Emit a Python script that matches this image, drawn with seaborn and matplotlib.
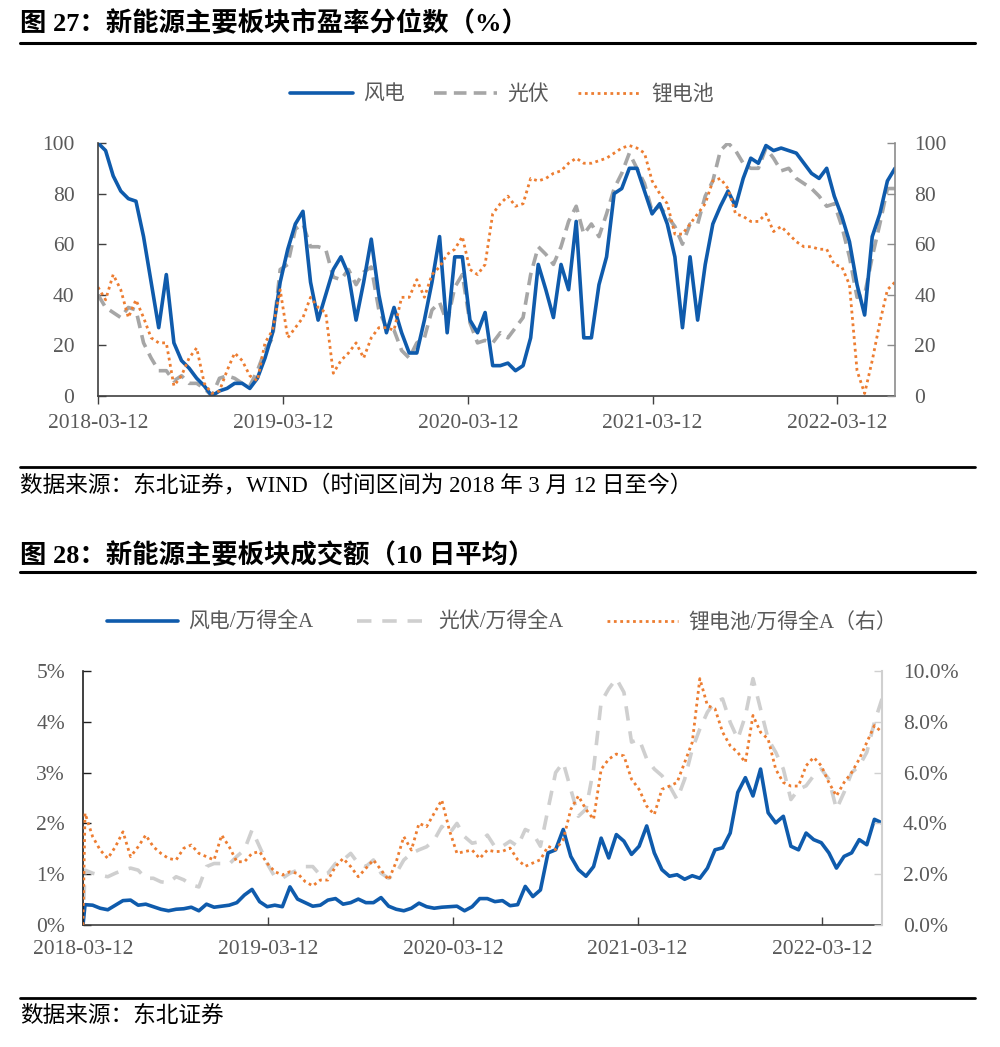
import matplotlib
matplotlib.use("Agg")
import matplotlib.pyplot as plt
import matplotlib.dates as mdates
from matplotlib.ticker import PercentFormatter
from matplotlib.lines import Line2D
import seaborn as sns
import numpy as np
import pandas as pd

sns.set_theme(style="white")
plt.rcParams['font.family'] = ['Liberation Serif', 'Noto Sans CJK SC', 'DejaVu Sans']
plt.rcParams['axes.unicode_minus'] = False

BLUE = "#0F5BAC"
ORANGE = "#ED7D31"
GRAY1 = "#A6A6A6"
GRAY2 = "#CFCFCF"
TXT = "#595959"
W, H = 1000, 1047
TICK_FS = 15.5

# ---------- 图 27: PE percentile, semi-monthly samples from 2018-03-12 ----------
pe_dates = pd.date_range("2018-03-12", periods=106, freq="15D")
wind_pe = [100, 97, 87, 81, 78, 77, 63, 45, 27, 48,
           21, 14, 11, 7, 4, 0, 2, 3, 5, 5,
           3, 7, 15, 25, 45, 58, 68, 73, 45, 30,
           40, 50, 55, 48, 30, 45, 62, 40, 25, 35,
           25, 17, 17, 30, 45, 63, 25, 55, 55, 30,
           25, 33, 12, 12, 13, 10, 12, 23, 52, 42,
           31, 52, 42, 69, 23, 23, 44, 55, 80, 82,
           90, 90, 81, 72, 76, 68, 55, 27, 55, 30,
           52, 68, 75, 81, 75, 86, 94, 92, 99, 97,
           98, 97, 96, 92, 88, 86, 90, 79, 71, 61,
           44, 32, 63, 72, 85, 90]
pv_pe = [40, 35, 33, 31, 35, 34, 21, 15, 10, 10,
         6, 8, 5, 5, 3, 0, 7, 8, 7, 5,
         4, 10, 18, 23, 50, 52, 66, 68, 59, 59,
         58, 47, 46, 50, 44, 49, 51, 34, 27, 26,
         18, 15, 21, 23, 34, 37, 29, 43, 48, 29,
         21, 22, 21, 25, 23, 27, 31, 48, 59, 56,
         52, 59, 69, 75, 64, 68, 63, 72, 82, 88,
         96, 90, 84, 73, 75, 71, 67, 60, 68, 68,
         79, 85, 97, 100, 97, 92, 90, 90, 98, 94,
         89, 90, 86, 84, 82, 79, 75, 76, 67, 55,
         39, 40, 55, 68, 82, 82]
li_pe = [43, 38, 48, 42, 31, 38, 31, 23, 21, 21,
         4, 8, 15, 19, 5, 1, 2, 10, 17, 14,
         8, 6, 21, 26, 42, 23, 27, 31, 39, 35,
         33, 9, 14, 17, 21, 15, 23, 27, 27, 26,
         39, 39, 46, 39, 48, 51, 56, 58, 63, 50,
         48, 52, 72, 76, 79, 75, 76, 86, 85, 86,
         88, 89, 92, 94, 92, 92, 93, 94, 96, 98,
         99, 98, 96, 85, 80, 76, 64, 64, 68, 72,
         76, 85, 86, 82, 72, 71, 69, 69, 72, 65,
         67, 64, 61, 59, 59, 58, 58, 52, 51, 44,
         10, 1, 14, 29, 42, 45]

# ---------- 图 28: turnover share (%), first value is the empty start ----------
amt_dates = pd.DatetimeIndex([pd.Timestamp("2018-03-12")]).append(
    pd.date_range("2018-03-16", periods=106, freq="15D"))
wind_amt = [0.00,
            0.40, 0.39, 0.33, 0.30, 0.39, 0.48, 0.49, 0.39, 0.41, 0.36,
            0.31, 0.28, 0.31, 0.32, 0.35, 0.28, 0.41, 0.35, 0.37, 0.39,
            0.44, 0.59, 0.70, 0.46, 0.36, 0.39, 0.36, 0.75, 0.51, 0.44,
            0.37, 0.39, 0.49, 0.52, 0.41, 0.44, 0.51, 0.44, 0.44, 0.54,
            0.37, 0.31, 0.28, 0.33, 0.43, 0.36, 0.33, 0.35, 0.36, 0.37,
            0.28, 0.36, 0.52, 0.52, 0.46, 0.48, 0.38, 0.40, 0.76, 0.56,
            0.69, 1.42, 1.48, 1.88, 1.35, 1.09, 0.96, 1.15, 1.71, 1.32,
            1.78, 1.65, 1.39, 1.55, 1.95, 1.42, 1.09, 0.96, 0.99, 0.90,
            0.97, 0.92, 1.12, 1.48, 1.52, 1.81, 2.61, 2.90, 2.54, 3.07,
            2.21, 2.01, 2.14, 1.55, 1.48, 1.81, 1.68, 1.62, 1.42, 1.12,
            1.35, 1.42, 1.68, 1.58, 2.08, 2.01]
pv_amt = [0.00,
          1.08, 1.02, 0.98, 0.95, 1.02, 1.08, 1.12, 1.08, 0.92, 0.92,
          0.85, 0.83, 0.95, 0.89, 0.79, 0.75, 1.15, 1.21, 1.21, 1.20,
          1.35, 1.48, 1.87, 1.54, 1.21, 0.95, 0.92, 1.02, 1.08, 1.15,
          1.15, 0.98, 1.02, 1.21, 1.28, 1.41, 1.21, 1.15, 1.28, 1.02,
          0.92, 1.02, 1.28, 1.41, 1.48, 1.54, 1.67, 1.94, 1.80, 2.00,
          1.74, 1.61, 1.64, 1.77, 1.54, 1.55, 1.65, 1.55, 1.88, 1.81,
          1.55, 2.28, 3.00, 3.20, 2.67, 2.14, 2.28, 3.07, 4.39, 4.65,
          4.85, 4.58, 3.60, 3.66, 3.27, 3.07, 2.94, 2.74, 2.47, 2.87,
          3.46, 3.86, 4.19, 4.39, 4.45, 3.99, 3.66, 4.12, 4.85, 4.25,
          3.66, 3.40, 3.07, 2.47, 2.67, 2.74, 2.94, 3.07, 2.87, 2.28,
          2.61, 3.00, 3.13, 3.40, 3.99, 4.45]
li_amt = [0.00,
          4.40, 3.48, 2.95, 2.62, 3.08, 3.67, 2.69, 3.08, 3.54, 3.08,
          2.82, 2.62, 2.56, 3.02, 3.15, 2.82, 2.69, 2.56, 3.54, 3.08,
          2.49, 2.49, 2.82, 2.89, 2.43, 2.10, 1.97, 2.10, 2.03, 1.71,
          1.54, 1.77, 1.77, 2.30, 2.62, 2.30, 1.90, 2.23, 2.56, 2.17,
          1.77, 2.49, 3.48, 2.95, 4.00, 3.87, 4.40, 4.92, 3.74, 2.82,
          2.89, 2.95, 2.62, 2.95, 2.89, 2.90, 3.03, 2.57, 2.31, 2.44,
          2.57, 3.10, 2.97, 3.36, 4.55, 5.08, 4.55, 4.16, 6.13, 6.53,
          6.73, 6.66, 5.74, 5.34, 4.68, 4.35, 5.34, 5.47, 5.61, 6.40,
          7.19, 9.70, 8.64, 8.51, 7.59, 7.06, 6.79, 6.40, 8.25, 7.59,
          7.32, 6.13, 5.61, 5.47, 5.47, 6.27, 6.60, 6.27, 5.61, 5.08,
          5.61, 6.00, 6.53, 7.19, 7.85, 7.59]

tick_dates = pd.to_datetime(["2018-03-12", "2019-03-12", "2020-03-12",
                             "2021-03-12", "2022-03-12"])


def fx(px):
    return px / W


def fy(py):
    return 1 - py / H


def rect(left, top, right, bottom):
    return [fx(left), fy(bottom), (right - left) / W, (bottom - top) / H]


def hline(fig, y, lw):
    fig.add_artist(Line2D([fx(20), fx(975)], [fy(y), fy(y)], color="black",
                          lw=lw, transform=fig.transFigure))


def style_x(ax, direction, pad):
    ax.set_xticks(tick_dates)
    ax.xaxis.set_major_formatter(mdates.DateFormatter("%Y-%m-%d"))
    ax.tick_params(axis="x", direction=direction, length=6, width=1,
                   color="#404040", pad=pad, labelsize=TICK_FS, labelcolor=TXT,
                   bottom=True)
    ax.set_xlabel("")


fig = plt.figure(figsize=(W / 100, H / 100), dpi=100)

# ---------------- 图 27 ----------------
fig.text(fx(20), fy(23), "图 27：新能源主要板块市盈率分位数（%）", fontsize=19,
         fontweight="bold", va="center", ha="left", color="black")
hline(fig, 43, 2.2)

ax1 = fig.add_axes(rect(98, 143, 895, 396))
sns.lineplot(x=pe_dates, y=pv_pe, ax=ax1, color=GRAY1, lw=2.6,
             linestyle=(0, (3.5, 2)), label="光伏")
sns.lineplot(x=pe_dates, y=wind_pe, ax=ax1, color=BLUE, lw=2.6, label="风电")
sns.lineplot(x=pe_dates, y=li_pe, ax=ax1, color=ORANGE, lw=2.0,
             linestyle=(0, (1, 1.3)), label="锂电池")
ax1.get_legend().remove()
ax1.set_xlim(pe_dates[0], pe_dates[-1])
ax1.set_ylim(0, 100)
ax1.set_yticks(np.arange(0, 101, 20))
ax1.tick_params(axis="y", direction="in", length=6, width=1, color="#404040",
                pad=17, labelsize=TICK_FS, labelcolor=TXT, left=True)
style_x(ax1, "out", 7)
ax1.set_ylabel("")
for s in ["top", "right"]:
    ax1.spines[s].set_visible(False)
for s in ["left", "bottom"]:
    ax1.spines[s].set_color("#404040")
    ax1.spines[s].set_linewidth(1.2)

ax1r = ax1.twinx()
ax1r.set_ylim(0, 100)
ax1r.set_yticks(np.arange(0, 101, 20))
ax1r.tick_params(axis="y", direction="in", length=6, width=1, color="#8C8C8C",
                 pad=14, labelsize=TICK_FS, labelcolor=TXT, right=True)
for s in ["top", "left", "bottom"]:
    ax1r.spines[s].set_visible(False)
ax1r.spines["right"].set_color("#8C8C8C")
ax1r.spines["right"].set_linewidth(1.2)

h, l = ax1.get_legend_handles_labels()
order = [l.index(n) for n in ["风电", "光伏", "锂电池"]]
fig.legend([h[i] for i in order], [l[i] for i in order], loc="center",
           bbox_to_anchor=(fx(502), fy(95)), ncol=3, frameon=False,
           fontsize=15, handlelength=3.0, handletextpad=0.5, columnspacing=1.4,
           labelcolor=TXT)

hline(fig, 467, 2.0)
fig.text(fx(20), fy(486), "数据来源：东北证券，WIND（时间区间为 2018 年 3 月 12 日至今）",
         fontsize=16.3, va="center", ha="left", color="black")

# ---------------- 图 28 ----------------
fig.text(fx(20), fy(555), "图 28：新能源主要板块成交额（10 日平均）", fontsize=19,
         fontweight="bold", va="center", ha="left", color="black")
hline(fig, 572, 2.2)

ax2 = fig.add_axes(rect(83, 671, 882, 925))
sns.lineplot(x=amt_dates, y=pv_amt, ax=ax2, color=GRAY2, lw=2.6,
             linestyle=(0, (4, 3)), label="光伏/万得全A")
sns.lineplot(x=amt_dates, y=wind_amt, ax=ax2, color=BLUE, lw=2.6,
             label="风电/万得全A")
ax2.get_legend().remove()
ax2.set_xlim(amt_dates[0], amt_dates[-1])
ax2.set_ylim(0, 5)
ax2.set_yticks(np.arange(0, 5.01, 1))
ax2.yaxis.set_major_formatter(PercentFormatter(decimals=0))
ax2.tick_params(axis="y", direction="in", length=6, width=1, color="#202020",
                pad=13, labelsize=TICK_FS, labelcolor=TXT, left=True)
style_x(ax2, "in", 11)
ax2.set_ylabel("")
for s in ["top", "right"]:
    ax2.spines[s].set_visible(False)
ax2.spines["left"].set_color("#202020")
ax2.spines["bottom"].set_color("#404040")
for s in ["left", "bottom"]:
    ax2.spines[s].set_linewidth(1.2)

ax2r = ax2.twinx()
sns.lineplot(x=amt_dates, y=li_amt, ax=ax2r, color=ORANGE, lw=2.0,
             linestyle=(0, (1, 1.3)), label="锂电池/万得全A（右）")
ax2r.get_legend().remove()
ax2r.set_ylim(0, 10)
ax2r.set_yticks(np.arange(0, 10.01, 2))
ax2r.yaxis.set_major_formatter(PercentFormatter(decimals=1))
ax2r.tick_params(axis="y", direction="in", length=6, width=1, color="#D0D0D0",
                 pad=15, labelsize=TICK_FS, labelcolor=TXT, right=True)
ax2r.set_ylabel("")
for s in ["top", "left", "bottom"]:
    ax2r.spines[s].set_visible(False)
ax2r.spines["right"].set_color("#D0D0D0")
ax2r.spines["right"].set_linewidth(1.5)

h1, l1 = ax2.get_legend_handles_labels()
h2, l2 = ax2r.get_legend_handles_labels()
hh, ll = h1 + h2, l1 + l2
order = [ll.index(n) for n in ["风电/万得全A", "光伏/万得全A", "锂电池/万得全A（右）"]]
fig.legend([hh[i] for i in order], [ll[i] for i in order], loc="center",
           bbox_to_anchor=(fx(502), fy(623)), ncol=3, frameon=False,
           fontsize=15, handlelength=3.4, handletextpad=0.5, columnspacing=2.1,
           labelcolor=TXT)

hline(fig, 998, 2.0)
fig.text(fx(20), fy(1016), "数据来源：东北证券", fontsize=16.3, va="center",
         ha="left", color="black")

fig.savefig("out.png", dpi=100, facecolor="white")
